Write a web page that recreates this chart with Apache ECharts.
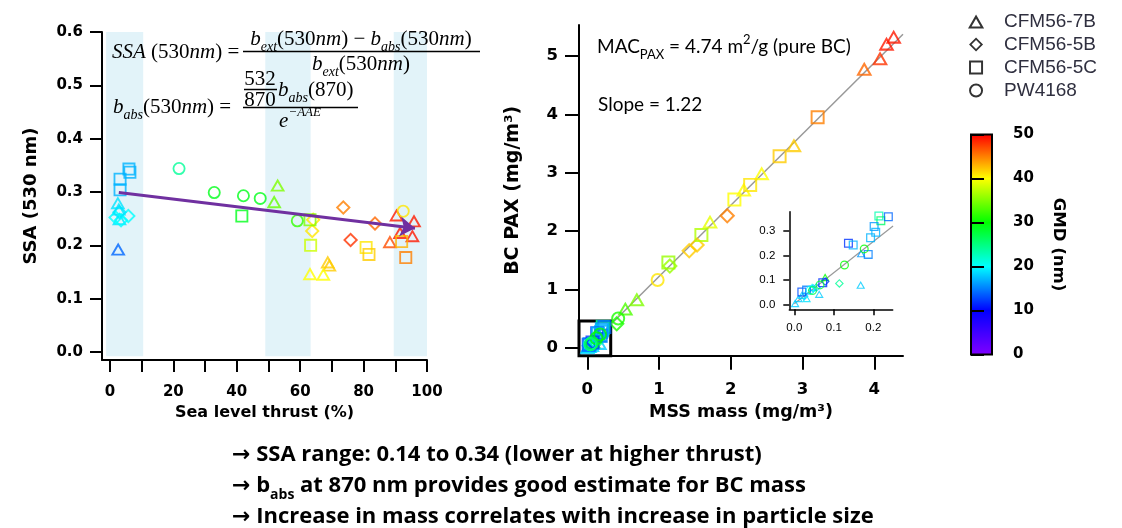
<!DOCTYPE html>
<html>
<head>
<meta charset="utf-8">
<script src="https://cdn.jsdelivr.net/npm/echarts@6/dist/echarts.min.js"></script>
<style>
html,body{margin:0;padding:0;background:#fff;}
#chart{width:1122px;height:528px;}
</style>
</head>
<body>
<div id="chart"></div>
<script>
// left panel: [sea level thrust (%), SSA 530nm, GMD (nm)]
var ssa7B = [[2.5,0.280,19],[2.8,0.268,19],[3.0,0.250,19],[2.6,0.193,14],
    [52.9,0.313,35],[51.8,0.282,34],
    [68.7,0.169,42],[69.2,0.163,42],[63.1,0.147,40],[67.3,0.146,40],
    [90.4,0.257,49],[95.9,0.246,49],[91.5,0.224,49],[95.4,0.218,49],[88.3,0.207,47]];
var ssa5B = [[1.8,0.252,20],[3.5,0.247,20],[5.8,0.255,20],[3.0,0.262,19],
    [64.1,0.248,41],[63.8,0.227,41],
    [73.6,0.271,45],[75.9,0.210,48],[83.6,0.241,46]];
var ssa5C = [[6.0,0.343,17],[6.3,0.337,17],[3.2,0.324,17],[3.2,0.304,17],
    [41.6,0.255,29],[63.1,0.248,35],[63.3,0.200,38],
    [80.8,0.196,41],[81.7,0.183,42],[92.0,0.207,43],[93.3,0.177,45]];
var ssaPW = [[21.8,0.344,24],[32.9,0.299,29],[42.1,0.293,29],[47.4,0.288,29],[59.1,0.246,32],[92.5,0.264,41]];
var ssaTrend = [[2.8,0.299],[96.2,0.232]];
var thrustBands = [[-1.2,10.5],[49,63.3],[89.5,100]];

// right panel: [MSS mass, BC PAX, GMD]
var bc7B = [[4.27,5.33,49],[4.17,5.21,49],[4.08,4.96,48],[3.86,4.78,46],[2.88,3.47,42],
    [2.43,2.99,40],[2.18,2.71,40],[1.71,2.16,39],[0.69,0.83,35],[0.53,0.67,33]];
var bc5B = [[1.95,2.26,45],[1.53,1.76,42],[1.42,1.66,42],[1.15,1.40,36],[0.41,0.41,31]];
var bc5C = [[3.21,3.95,45],[2.68,3.28,42],[2.27,2.79,41],[2.05,2.54,40],[1.59,1.93,37],[1.13,1.46,36]];
var bcPW = [[0.98,1.16,41],[0.43,0.50,31]];
var bcFit = [[0,0],[4.4,5.37]];

// inset (low mass points)
var in7B = [[0.169,0.208,16],[0.168,0.081,18],[0.078,0.112,30],[0.063,0.044,18],[0.002,0.007,18],
    [0.0105,0.027,18],[0.019,0.040,18],[0.031,0.027,19],[0.045,0.072,20]];
var in5B = [[0.114,0.087,24],[0.048,0.067,18],[0.056,0.071,18],[0.025,0.035,19],[0.078,0.095,12]];
var in5C = [[0.214,0.359,23],[0.219,0.340,26],[0.238,0.356,14],[0.202,0.316,16],[0.206,0.293,17],
    [0.193,0.271,17],[0.187,0.204,15],[0.137,0.249,12],[0.149,0.242,17],[0.019,0.052,13],
    [0.031,0.060,15],[0.072,0.090,12]];
var inPW = [[0.177,0.226,30],[0.127,0.161,30],[0.065,0.081,28],[0.040,0.060,20],[0.046,0.058,27]];
var inFit = [[0,0.005],[0.25,0.318]];

var engines = ['CFM56-7B','CFM56-5B','CFM56-5C','PW4168'];
var thrustTicks = [0,10,20,30,40,50,60,70,80,90,100];
var thrustLabels = [0,20,40,60,80,100];
var ssaTicks = [0,0.1,0.2,0.3,0.4,0.5,0.6];
var massTicks = [0,1,2,3,4];
var bcTicks = [0,1,2,3,4,5];
var inXTicks = [0,0.1,0.2];
var inYTicks = [0,0.1,0.2,0.3];
var gmdColors = ['#7f00ff','#0000ff','#00ffff','#00ff00','#ffff00','#ff0000'];

// hollow markers
var symTri = 'path://M50,0L100,87L0,87ZM50,26L22,74L78,74Z';
var symDia = 'path://M50,0L100,50L50,100L0,50ZM50,18L18,50L50,82L82,50Z';
var symSq = 'path://M0,0L100,0L100,100L0,100ZM14,14L14,86L86,86L86,14Z';
var symCir = 'path://M50,0A50,50,0,1,1,50,100A50,50,0,1,1,50,0ZM50,14A36,36,0,1,0,50,86A36,36,0,1,0,50,14Z';
var syms = [symTri, symDia, symSq, symCir];

var axFont = 'DejaVu Sans';

function axisPair(o){
    return {
        x: {
            type:'value', gridIndex:o.g, min:o.xmin, max:o.xmax,
            axisLine:{show:true, onZero:false, lineStyle:{color:'#000', width:o.lw}},
            axisTick:{show:true, customValues:o.xt, length:o.tl, lineStyle:{color:'#000', width:o.lw}},
            axisLabel:{show:true, customValues:o.xl, margin:o.xm, color:'#000', fontFamily:o.ff, fontWeight:o.fw,
                fontSize:o.fs, formatter:o.xf},
            splitLine:{show:false},
            name:o.xn, nameLocation:'middle', nameGap:o.xng,
            nameTextStyle:{fontFamily:axFont, fontWeight:'bold', fontSize:o.xnfs, color:'#000'}
        },
        y: {
            type:'value', gridIndex:o.g, min:o.ymin, max:o.ymax,
            axisLine:{show:true, onZero:false, lineStyle:{color:'#000', width:o.lw}},
            axisTick:{show:true, customValues:o.yt, length:o.tl, lineStyle:{color:'#000', width:o.lw}},
            axisLabel:{show:true, customValues:o.yt, margin:o.ym, color:'#000', fontFamily:o.ff, fontWeight:o.fw,
                fontSize:o.fs, formatter:o.yf},
            splitLine:{show:false},
            name:o.yn, nameLocation:'middle', nameGap:o.yng,
            nameTextStyle:{fontFamily:axFont, fontWeight:'bold', fontSize:o.ynfs, color:'#000'}
        }
    };
}

var fix1 = function(v){ return v.toFixed(1); };
var plain = function(v){ return String(v); };

var axLeft = axisPair({g:0, xmin:-2.5, xmax:100, ymin:-0.015, ymax:0.6, lw:2, tl:12,
    xt:thrustTicks, xl:thrustLabels, yt:ssaTicks, xm:25, ym:19, ff:axFont, fw:'bold', fs:15,
    xf:plain, yf:fix1, xn:'Sea level thrust (%)', xng:42, yn:'SSA (530 nm)', yng:62, xnfs:16, ynfs:18});
var axRight = axisPair({g:1, xmin:-0.116, xmax:4.40, ymin:-0.137, ymax:5.53, lw:2, tl:14,
    xt:massTicks, xl:massTicks, yt:bcTicks, xm:26, ym:21, ff:axFont, fw:'bold', fs:16.5,
    xf:plain, yf:plain, xn:'MSS mass (mg/m³)', xng:48, yn:'BC PAX (mg/m³)', yng:56, xnfs:17.5, ynfs:19});
var axInset = axisPair({g:2, xmin:-0.0127, xmax:0.249, ymin:-0.0173, ymax:0.376, lw:1.5, tl:6,
    xt:inXTicks, xl:inXTicks, yt:inYTicks, xm:13, ym:14, ff:'Liberation Sans', fw:'normal', fs:11.5,
    xf:fix1, yf:fix1, xn:'', xng:0, yn:'', yng:0, xnfs:12, ynfs:12});

var series = [];
// 0: thrust bands
series.push({type:'scatter', xAxisIndex:0, yAxisIndex:0, data:[], silent:true, z:1,
    markArea:{silent:true, itemStyle:{color:'#e2f3f9'}, label:{show:false},
        data: thrustBands.map(function(b){ return [{xAxis:b[0], yAxis:-0.008},{xAxis:b[1], yAxis:0.6}]; })}});
// 1: trend arrow
series.push({type:'lines', coordinateSystem:'cartesian2d', xAxisIndex:0, yAxisIndex:0, z:6, silent:true,
    symbol:['none','arrow'], symbolSize:15,
    lineStyle:{color:'#7030a0', width:3, opacity:1},
    data:[{coords:ssaTrend}]});
var leftSets = [ssa7B, ssa5B, ssa5C, ssaPW];
var leftSizes = [15, 15, 13, 13];
// 2-5
leftSets.forEach(function(d, i){
    series.push({type:'scatter', name:engines[i], xAxisIndex:0, yAxisIndex:0, z:3,
        symbol:syms[i], symbolSize:leftSizes[i], symbolKeepAspect:true, data:d});
});
// 6: fit line
series.push({type:'line', xAxisIndex:1, yAxisIndex:1, data:bcFit, symbol:'none', z:2, silent:true,
    lineStyle:{color:'#999', width:1.5}});
// 7: box marking inset range
series.push({type:'scatter', xAxisIndex:1, yAxisIndex:1, data:[], silent:true, z:5,
    markArea:{silent:true, label:{show:false},
        itemStyle:{color:'rgba(0,0,0,0)', borderColor:'#000', borderWidth:3},
        data:[[{xAxis:-0.116, yAxis:-0.137},{xAxis:0.326, yAxis:0.457}]]}});
var mainSets = [bc7B.concat(in7B), bc5B.concat(in5B), bc5C.concat(in5C), bcPW.concat(inPW)];
var mainSizes = [16, 16, 14, 14];
// 8-11
mainSets.forEach(function(d, i){
    series.push({type:'scatter', name:engines[i], xAxisIndex:1, yAxisIndex:1, z:3,
        symbol:syms[i], symbolSize:mainSizes[i], symbolKeepAspect:true, data:d});
});
// 12: inset fit line
series.push({type:'line', xAxisIndex:2, yAxisIndex:2, data:inFit, symbol:'none', z:2, silent:true,
    lineStyle:{color:'#999', width:1.2}});
var insetSets = [in7B, in5B, in5C, inPW];
// 13-16
insetSets.forEach(function(d, i){
    series.push({type:'scatter', name:engines[i], xAxisIndex:2, yAxisIndex:2, z:3,
        symbol:syms[i], symbolSize:9, symbolKeepAspect:true, data:d});
});

var eqF = 'Liberation Serif';
var eqRich = {
    i:{fontStyle:'italic', fontFamily:eqF, fontSize:21, lineHeight:30, fill:'#000'},
    s:{fontStyle:'italic', fontFamily:eqF, fontSize:14, lineHeight:30, verticalAlign:'bottom', fill:'#000'},
    p:{fontStyle:'italic', fontFamily:eqF, fontSize:13, lineHeight:30, verticalAlign:'top', fill:'#000'}
};
function eqText(x, y, txt, align){
    return {type:'text', x:x, y:y, z:100, silent:true, style:{text:txt, rich:eqRich, fontFamily:eqF, fontSize:21,
        lineHeight:30, fill:'#000', align:align || 'left', verticalAlign:'middle'}};
}
function hline(x1, x2, y){
    return {type:'line', z:100, silent:true, shape:{x1:x1, y1:y, x2:x2, y2:y}, style:{stroke:'#000', lineWidth:1.6}};
}

var sansRich = {
    sub:{fontFamily:'Lato', fontSize:13, lineHeight:28, verticalAlign:'bottom', fill:'#000'},
    sup:{fontFamily:'Lato', fontSize:13, lineHeight:28, verticalAlign:'top', fill:'#000'}
};
var noteRich = {
    a:{fontFamily:'DejaVu Sans', fontWeight:'bold', fontSize:22, lineHeight:32, fill:'#000'},
    sub:{fontFamily:'Open Sans', fontWeight:'bold', fontSize:14, lineHeight:32, verticalAlign:'bottom', fill:'#000'}
};
function note(y, txt){
    return {type:'text', x:232, y:y, z:100, silent:true, style:{text:'{a|→} ' + txt, rich:noteRich,
        fontFamily:'Open Sans', fontWeight:'bold', fontSize:22, lineHeight:32, fill:'#000', verticalAlign:'middle'}};
}

var graphics = [
    eqText(112, 52, '{i|SSA} (530{i|nm}) ='),
    eqText(361, 39, '{i|b}{s|ext}(530{i|nm}) − {i|b}{s|abs}(530{i|nm})', 'center'),
    hline(243, 480, 51.5),
    eqText(361, 64, '{i|b}{s|ext}(530{i|nm})', 'center'),
    eqText(113, 107, '{i|b}{s|abs}(530{i|nm}) ='),
    eqText(260, 79, '532', 'center'),
    hline(244, 277, 89.5),
    eqText(260, 100, '870', 'center'),
    eqText(278, 90, '{i|b}{s|abs}(870)'),
    hline(243, 358, 107.5),
    eqText(300, 121, '{i|e}{p|−AAE}', 'center'),
    {type:'text', x:597, y:47, z:100, silent:true, style:{text:'MAC{sub|PAX} = 4.74 m{sup|2}/g (pure BC)', rich:sansRich,
        fontFamily:'Lato', fontSize:19, lineHeight:28, fill:'#000', verticalAlign:'middle'}},
    {type:'text', x:598, y:105, z:100, silent:true, style:{text:'Slope = 1.22', fontFamily:'Lato', fontSize:19,
        fill:'#000', verticalAlign:'middle'}},
    note(455, 'SSA range: 0.14 to 0.34 (lower at higher thrust)'),
    note(486, 'b{sub|abs} at 870 nm provides good estimate for BC mass'),
    note(517, 'Increase in mass correlates with increase in particle size')
];

var vmSeries = [2,3,4,5,8,9,10,11,13,14,15,16];

var option = {
    animation:false,
    textStyle:{fontFamily:'Liberation Sans'},
    grid:[
        {left:102, top:32, width:325, height:328},
        {left:579, top:25, width:324, height:330.7},
        {left:789.3, top:211.7, width:103.4, height:97.6},
        {left:971, top:134.5, width:21, height:220, show:true, borderColor:'#000', borderWidth:2,
            backgroundColor:'rgba(0,0,0,0)', z:10}
    ],
    xAxis:[axLeft.x, axRight.x, axInset.x,
        {type:'value', gridIndex:3, min:0, max:1, show:false}],
    yAxis:[axLeft.y, axRight.y, axInset.y,
        {type:'value', gridIndex:3, position:'right', min:0, max:50, interval:10, z:10,
            axisLine:{show:false},
            axisTick:{show:true, length:13, lineStyle:{color:'#000', width:2}},
            axisLabel:{margin:21, color:'#000', fontFamily:axFont, fontWeight:'bold', fontSize:15},
            splitLine:{show:false},
            name:'GMD (nm)', nameLocation:'middle', nameRotate:-90, nameGap:58,
            nameTextStyle:{fontFamily:axFont, fontWeight:'bold', fontSize:16.5, color:'#000'}}],
    visualMap:{
        type:'continuous', min:0, max:50, dimension:2, seriesIndex:vmSeries,
        calculable:false, hoverLink:false, realtime:false,
        left:971, top:134.5, itemWidth:21, itemHeight:220, padding:0, text:null, showLabel:false,
        inRange:{color:gmdColors}, z:1
    },
    legend:{
        orient:'vertical', left:968, top:12, itemWidth:46, itemHeight:14, itemGap:4, padding:0,
        selectedMode:false,
        textStyle:{fontFamily:'Liberation Sans', fontSize:19, color:'#2f2f3f'},
        data: engines.map(function(n, i){
            return {name:n, icon:syms[i], itemStyle:{color:'#000'}};
        })
    },
    graphic:graphics,
    series:series
};

var myChart = echarts.init(document.getElementById('chart'));
myChart.setOption(option);
</script>
</body>
</html>
